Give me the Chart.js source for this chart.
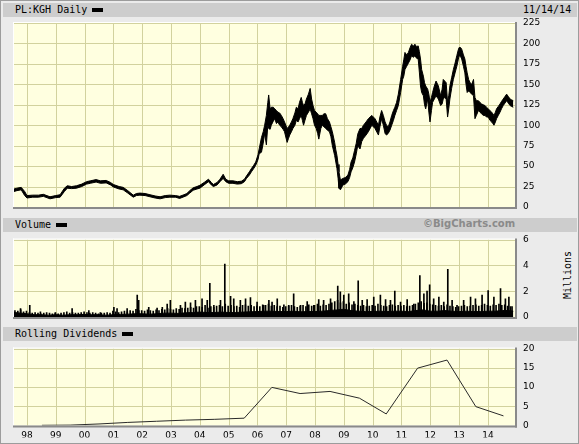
<!DOCTYPE html>
<html>
<head>
<meta charset="utf-8">
<script src="https://cdn.jsdelivr.net/npm/chart.js@4/dist/chart.umd.min.js"></script>
<style>
  body { margin: 0; background: #e9e9e9; }
  #frame { position: relative; width: 579px; height: 444px; background: #ebebeb; box-shadow: inset 0 0 0 1px #9c9c9c; overflow: hidden; }
  .band { position: absolute; left: 3px; width: 574px; height: 14px; background: #cdcdcd; }
  .lbl { position: absolute; font: 10px "DejaVu Sans Mono", monospace; color: #000; line-height: 14px; white-space: nowrap; }
  .sw { position: absolute; width: 11px; height: 4px; background: #000; }
  canvas { position: absolute; left: 0; }
</style>
</head>
<body>
<div id="frame">
  <div class="band" style="top:3px"></div>
  <div class="lbl" style="left:15px; top:3px">PL:KGH Daily</div>
  <div class="sw" style="left:92px; top:8px"></div>
  <div class="lbl" style="left:523px; top:3px">11/14/14</div>

  <div class="band" style="top:218px"></div>
  <div class="lbl" style="left:15px; top:218px">Volume</div>
  <div class="sw" style="left:56px; top:223px"></div>
  <div class="lbl" style="left:423px; top:218px; font:bold 10px 'DejaVu Sans', sans-serif; color:#8a8a8a">©BigCharts.com</div>

  <div class="band" style="top:327px"></div>
  <div class="lbl" style="left:15px; top:327px">Rolling Dividends</div>
  <div class="sw" style="left:122px; top:332px"></div>

  <div class="lbl" style="left:543px; top:268px; width:50px; text-align:center; transform:rotate(-90deg)">Millions</div>

  <canvas id="priceChart" width="579" height="200" style="top:17px"></canvas>
  <canvas id="volChart" width="579" height="90" style="top:233px"></canvas>
  <canvas id="divChart" width="579" height="102" style="top:342px"></canvas>
</div>

<script>
var yearTicks = [1998, 1999, 2000, 2001, 2002, 2003, 2004, 2005, 2006, 2007, 2008, 2009, 2010, 2011, 2012, 2013, 2014];
var xMin = 1997.55, xMax = 2014.94;

var priceDates = [1997.55, 1997.65, 1997.8, 1997.92, 1998.0, 1998.2, 1998.4, 1998.57, 1998.8, 1999.0, 1999.15, 1999.3, 1999.4, 1999.55, 1999.72, 1999.9,
  2000.07, 2000.2, 2000.4, 2000.55, 2000.75, 2000.9, 2001.0, 2001.2, 2001.34, 2001.5, 2001.69, 2001.8, 2001.92, 2002.1, 2002.27, 2002.45, 2002.62, 2002.8, 2002.96,
  2003.15, 2003.3, 2003.45, 2003.55, 2003.65, 2003.77, 2003.9, 2004.0, 2004.15, 2004.3, 2004.4, 2004.47, 2004.6, 2004.7, 2004.81, 2004.9,
  2005.0, 2005.15, 2005.3, 2005.44, 2005.55, 2005.62, 2005.72, 2005.79, 2005.87, 2005.94, 2006.02, 2006.06, 2006.14, 2006.2, 2006.25, 2006.31, 2006.36, 2006.39,
  2006.44, 2006.48, 2006.55, 2006.6, 2006.66, 2006.71, 2006.77, 2006.83, 2006.89, 2006.94, 2007.03, 2007.08, 2007.12, 2007.18, 2007.23, 2007.3, 2007.35, 2007.41,
  2007.46, 2007.52, 2007.56, 2007.6, 2007.65, 2007.7, 2007.77, 2007.83, 2007.88, 2007.93, 2007.98, 2008.04, 2008.09, 2008.13, 2008.2, 2008.25, 2008.31, 2008.37,
  2008.43, 2008.5, 2008.55, 2008.6, 2008.68, 2008.72, 2008.76, 2008.8, 2008.83, 2008.88, 2008.97, 2009.05, 2009.14, 2009.2, 2009.25, 2009.31, 2009.37, 2009.43,
  2009.48, 2009.56, 2009.62, 2009.68, 2009.77, 2009.85, 2009.97, 2010.08, 2010.2, 2010.25, 2010.31, 2010.37, 2010.43, 2010.48, 2010.54, 2010.6, 2010.66, 2010.72,
  2010.77, 2010.83, 2010.89, 2010.97, 2011.04, 2011.08, 2011.12, 2011.18, 2011.24, 2011.3, 2011.35, 2011.41, 2011.47, 2011.52, 2011.58, 2011.62, 2011.66, 2011.7,
  2011.76, 2011.8, 2011.84, 2011.91, 2011.95, 2011.99, 2012.04, 2012.08, 2012.14, 2012.2, 2012.28, 2012.36, 2012.41, 2012.45, 2012.5, 2012.55, 2012.6, 2012.64,
  2012.68, 2012.74, 2012.8, 2012.86, 2012.92, 2012.97, 2013.0, 2013.05, 2013.09, 2013.15, 2013.2, 2013.24, 2013.28, 2013.33, 2013.38, 2013.44, 2013.5, 2013.55,
  2013.6, 2013.67, 2013.72, 2013.78, 2013.84, 2013.9, 2013.95, 2014.01, 2014.07, 2014.13, 2014.17, 2014.21, 2014.26, 2014.3, 2014.36, 2014.42, 2014.47, 2014.53,
  2014.59, 2014.65, 2014.71, 2014.77, 2014.82, 2014.88];
var priceLow = [19, 20, 21, 14, 11, 12, 12, 13, 10, 11.5, 12, 19, 23, 22.5, 23, 25,
  28, 29, 30.5, 29, 29.5, 27, 24.5, 22, 21, 17, 12, 14, 14.5, 14, 12.5, 11, 10, 11.5, 12,
  12, 10.5, 12.5, 14, 17, 20.5, 22, 23, 27, 31, 27, 25, 27, 31, 35, 31,
  29, 29, 28, 28.5, 31, 35, 39, 43, 47, 51, 58, 65, 67, 78, 90, 76, 100, 96,
  95, 100, 105, 108, 102, 104, 100, 98, 95, 92, 79, 84, 88, 92, 96, 100, 106, 104,
  108, 112, 106, 100, 106, 112, 116, 120, 114, 108, 100, 96, 90, 83, 96, 100, 98, 96,
  94, 92, 86, 75, 63, 55, 47, 35, 23, 21, 27, 28, 31, 36, 43, 48, 55, 65,
  75, 71, 80, 84, 88, 92, 100, 96, 88, 98, 108, 100, 90, 88, 90, 94, 100, 106,
  112, 118, 124, 140, 156, 160, 168, 172, 176, 180, 185, 183, 185, 182, 181, 165, 148, 140,
  136, 125, 120, 132, 116, 104, 118, 128, 132, 136, 132, 124, 126, 132, 134, 132, 110, 120,
  132, 145, 156, 164, 172, 180, 185, 184, 181, 172, 164, 150, 140, 142, 140, 138, 136, 108,
  112, 118, 116, 114, 112, 112, 110, 110, 106, 104, 102, 100, 104, 108, 112, 116, 120, 124,
  127, 130, 127, 124, 123, 122];
var priceHigh = [22, 23, 24, 19, 14, 14.5, 14.5, 15.5, 12.5, 14, 15, 23, 26, 25, 26, 28,
  31, 32, 33.5, 32, 32.5, 30, 27.5, 25, 24, 20, 14.5, 16.5, 17, 16.5, 15, 13.5, 12.5, 14, 14.5,
  14, 13, 15, 16.5, 20, 23.5, 25, 26.5, 30, 34, 30, 27.5, 30, 34, 40, 34,
  32, 32, 31, 31.5, 34, 38, 43, 47, 51, 55, 64, 71, 85, 92, 100, 112, 128, 137,
  120, 122, 122, 120, 118, 116, 115, 112, 108, 104, 96, 98, 100, 104, 108, 115, 122, 120,
  128, 134, 128, 124, 126, 132, 138, 145, 132, 124, 118, 116, 114, 112, 112, 112, 114, 114,
  108, 104, 98, 92, 79, 70, 63, 52, 43, 33, 35, 36, 39, 46, 55, 60, 69, 78,
  89, 96, 96, 100, 104, 108, 112, 108, 100, 110, 118, 112, 104, 100, 98, 104, 112, 118,
  122, 128, 138, 156, 172, 180, 189, 186, 189, 195, 199, 197, 199, 196, 197, 190, 181, 168,
  160, 152, 148, 144, 138, 128, 134, 140, 148, 154, 148, 136, 144, 156, 154, 152, 128, 136,
  148, 158, 168, 176, 185, 192, 195, 195, 193, 186, 181, 172, 164, 156, 152, 150, 156, 134,
  130, 130, 128, 126, 125, 124, 122, 120, 118, 116, 114, 112, 116, 120, 123, 126, 129, 132,
  135, 138, 135, 132, 131, 130];

// volume in millions: dense floor, ordinary days, and the taller days
var volBaseDates = [1997.55, 1997.8, 1998.0, 1998.25, 1998.5, 1998.75, 1999.0, 1999.25, 1999.5, 1999.75, 2000.0, 2000.25, 2000.5, 2000.75,
  2001.0, 2001.25, 2001.5, 2001.75, 2002.0, 2002.25, 2002.5, 2002.75, 2003.0, 2003.25, 2003.5, 2003.75, 2004.0, 2004.25, 2004.5, 2004.75,
  2005.0, 2005.25, 2005.5, 2005.75, 2006.0, 2006.25, 2006.5, 2006.75, 2007.0, 2007.25, 2007.5, 2007.75, 2008.0, 2008.25, 2008.5, 2008.75,
  2009.0, 2009.25, 2009.5, 2009.75, 2010.0, 2010.25, 2010.5, 2010.75, 2011.0, 2011.25, 2011.5, 2011.75, 2012.0, 2012.25, 2012.5, 2012.75,
  2013.0, 2013.25, 2013.5, 2013.75, 2014.0, 2014.25, 2014.5, 2014.75, 2014.88];
var volBase = [0.35, 0.3, 0.25, 0.18, 0.18, 0.14, 0.18, 0.14, 0.18, 0.18, 0.2, 0.18, 0.18, 0.14,
  0.18, 0.2, 0.22, 0.25, 0.25, 0.22, 0.25, 0.3, 0.3, 0.28, 0.32, 0.35, 0.38, 0.35, 0.35, 0.38,
  0.35, 0.35, 0.38, 0.4, 0.42, 0.45, 0.45, 0.42, 0.42, 0.45, 0.4, 0.42, 0.42, 0.45, 0.5, 0.55,
  0.6, 0.5, 0.45, 0.42, 0.42, 0.45, 0.42, 0.45, 0.45, 0.42, 0.5, 0.55, 0.45, 0.45, 0.5, 0.45,
  0.42, 0.45, 0.42, 0.42, 0.45, 0.45, 0.5, 0.5, 0.45];
var volDayDates = [1997.6, 1997.7, 1997.8, 1997.9,
  1998.0, 1998.1, 1998.2, 1998.3, 1998.4, 1998.5, 1998.6, 1998.7, 1998.8, 1998.9,
  1999.0, 1999.1, 1999.2, 1999.3, 1999.4, 1999.5, 1999.6, 1999.7, 1999.8, 1999.9,
  2000.0, 2000.1, 2000.2, 2000.3, 2000.4, 2000.5, 2000.6, 2000.7, 2000.8, 2000.9,
  2001.0, 2001.1, 2001.2, 2001.3, 2001.4, 2001.5, 2001.6, 2001.7, 2001.8, 2001.9,
  2002.0, 2002.1, 2002.2, 2002.3, 2002.4, 2002.5, 2002.6, 2002.7, 2002.8, 2002.9,
  2003.0, 2003.1, 2003.2, 2003.3, 2003.4, 2003.5, 2003.6, 2003.7, 2003.8, 2003.9,
  2004.0, 2004.1, 2004.2, 2004.3, 2004.4, 2004.5, 2004.6, 2004.7, 2004.8, 2004.9,
  2005.0, 2005.1, 2005.2, 2005.3, 2005.4, 2005.5, 2005.6, 2005.7, 2005.8, 2005.9,
  2006.0, 2006.1, 2006.2, 2006.3, 2006.4, 2006.5, 2006.6, 2006.7, 2006.8, 2006.9,
  2007.0, 2007.1, 2007.2, 2007.3, 2007.4, 2007.5, 2007.6, 2007.7, 2007.8, 2007.9,
  2008.0, 2008.1, 2008.2, 2008.3, 2008.4, 2008.5, 2008.6, 2008.7, 2008.8, 2008.9,
  2009.0, 2009.1, 2009.2, 2009.3, 2009.4, 2009.5, 2009.6, 2009.7, 2009.8, 2009.9,
  2010.0, 2010.1, 2010.2, 2010.3, 2010.4, 2010.5, 2010.6, 2010.7, 2010.8, 2010.9,
  2011.0, 2011.1, 2011.2, 2011.3, 2011.4, 2011.5, 2011.6, 2011.7, 2011.8, 2011.9,
  2012.0, 2012.1, 2012.2, 2012.3, 2012.4, 2012.5, 2012.6, 2012.7, 2012.8, 2012.9,
  2013.0, 2013.1, 2013.2, 2013.3, 2013.4, 2013.5, 2013.6, 2013.7, 2013.8, 2013.9,
  2014.0, 2014.1, 2014.2, 2014.3, 2014.4, 2014.5, 2014.6, 2014.7, 2014.8];
var volDay = [0.5, 0.45, 0.55, 0.4,
  0.45, 0.35, 0.3, 0.35, 0.3, 0.25, 0.3, 0.35, 0.3, 0.25,
  0.3, 0.25, 0.3, 0.35, 0.4, 0.3, 0.35, 0.3, 0.3, 0.35,
  0.4, 0.35, 0.3, 0.35, 0.3, 0.25, 0.3, 0.3, 0.35, 0.3,
  0.45, 0.4, 0.35, 0.4, 0.45, 0.4, 0.5, 0.45, 0.6, 0.5,
  0.5, 0.45, 0.55, 0.5, 0.45, 0.55, 0.5, 0.6, 0.55, 0.65,
  0.6, 0.55, 0.65, 0.6, 0.7, 0.65, 0.7, 0.75, 0.7, 0.8,
  0.8, 0.75, 0.9, 0.7, 0.8, 0.75, 0.85, 0.9, 0.8, 1.0,
  0.85, 0.9, 0.8, 0.85, 0.75, 0.9, 0.95, 0.85, 0.9, 0.8,
  0.85, 0.8, 0.95, 0.9, 1.0, 0.85, 0.9, 0.8, 0.85, 0.75,
  0.8, 0.85, 0.9, 0.8, 0.75, 0.85, 0.9, 0.8, 0.95, 0.85,
  0.9, 1.0, 0.85, 0.95, 0.9, 1.0, 1.1, 1.2, 1.3, 1.1,
  1.2, 1.0, 1.1, 0.95, 1.0, 0.9, 0.85, 0.9, 0.8, 0.85,
  0.9, 0.85, 1.0, 0.9, 0.85, 0.8, 0.9, 0.95, 0.85, 0.9,
  0.85, 0.9, 0.8, 0.85, 0.9, 1.0, 1.1, 1.2, 1.05, 1.1,
  1.0, 0.95, 0.9, 0.85, 0.9, 0.8, 0.95, 0.85, 0.8, 0.75,
  0.8, 0.85, 0.9, 0.8, 0.85, 0.9, 0.95, 0.85, 0.9, 1.0,
  0.9, 0.85, 0.95, 0.9, 1.0, 0.9, 0.95, 0.85, 0.8];
var volSpikeDates = [1997.76, 1998.08, 1998.45, 1998.97, 1999.55, 2000.13, 2000.53, 2001.0, 2001.11, 2001.46, 2001.81, 2001.86, 2002.21, 2002.5, 2002.68,
  2002.85, 2002.96, 2003.31, 2003.48, 2003.66, 2003.83, 2004.06, 2004.24, 2004.33, 2004.47, 2004.7, 2004.85, 2005.05, 2005.16, 2005.39, 2005.57,
  2005.74, 2005.97, 2006.2, 2006.38, 2006.49, 2006.67, 2006.9, 2007.07, 2007.24, 2007.48, 2007.71, 2007.94, 2008.11, 2008.28, 2008.52, 2008.77,
  2008.86, 2008.98, 2009.15, 2009.33, 2009.48, 2009.62, 2009.79, 2010.02, 2010.25, 2010.43, 2010.6, 2010.75, 2010.95, 2011.18, 2011.41, 2011.62,
  2011.76, 2011.87, 2011.96, 2012.1, 2012.28, 2012.45, 2012.59, 2012.74, 2012.91, 2013.14, 2013.38, 2013.55, 2013.78, 2013.99, 2014.19, 2014.42,
  2014.59, 2014.71, 2014.82];
var volSpikes = [0.65, 0.9, 0.4, 0.35, 0.65, 0.5, 0.35, 0.75, 0.65, 0.65, 1.7, 1.3, 0.75, 0.7, 0.75,
  1.0, 1.3, 0.9, 1.15, 1.1, 1.3, 1.4, 1.3, 2.6, 0.9, 1.3, 4.1, 1.6, 1.4, 1.3, 1.4,
  1.5, 1.15, 0.9, 1.3, 1.15, 1.4, 0.95, 0.9, 1.8, 0.9, 1.2, 0.9, 1.35, 1.3, 1.4, 2.4,
  1.95, 1.7, 1.8, 1.2, 2.8, 1.3, 1.35, 1.55, 1.7, 1.35, 1.3, 2.0, 1.15, 1.35, 1.0, 3.2,
  1.8, 2.0, 2.5, 1.4, 1.55, 1.15, 3.7, 1.3, 0.9, 1.3, 1.55, 1.4, 1.7, 2.05, 1.55, 2.2,
  1.4, 1.55, 0.8];

// rolling dividends
var divDates = [1998.52, 1999.5, 2000.5, 2001.5, 2002.5, 2003.5, 2004.5, 2005.54, 2006.5, 2007.48, 2008.52, 2009.54, 2010.47, 2011.56, 2012.58, 2013.58, 2014.54];
var divValues = [0.05, 0.1, 0.4, 0.8, 1.1, 1.4, 1.6, 1.9, 9.9, 8.3, 8.85, 7.1, 3.0, 14.9, 17.0, 4.9, 2.5];

var gridColor = '#d2d29e';
var tickFont = { family: 'DejaVu Sans', size: 9 };

function pts(xs, ys) {
  return xs.map(function (x, i) { return { x: x, y: ys[i] }; });
}

// yellow plot box, its grid and the bevelled edge
var panelPlugin = {
  id: 'panel',
  beforeDraw: function (chart) {
    var a = chart.chartArea, c = chart.ctx;
    c.save();
    c.fillStyle = '#ffffe0';
    c.fillRect(a.left, a.top, a.right - a.left, a.bottom - a.top);
    c.restore();
  },
  beforeDatasetsDraw: function (chart) {
    var a = chart.chartArea, c = chart.ctx, xs = chart.scales.x, ys = chart.scales.y;
    c.save();
    c.strokeStyle = gridColor;
    c.lineWidth = 1;
    c.beginPath();
    xs.ticks.forEach(function (t) {
      var p = Math.round(xs.getPixelForValue(t.value)) + 0.5;
      c.moveTo(p, a.top); c.lineTo(p, a.bottom);
    });
    ys.ticks.forEach(function (t) {
      var p = Math.round(ys.getPixelForValue(t.value)) + 0.5;
      c.moveTo(a.left, p); c.lineTo(a.right, p);
    });
    c.stroke();
    c.restore();
  },
  afterDraw: function (chart) {
    var a = chart.chartArea, c = chart.ctx;
    c.save();
    c.fillStyle = '#ffffff';
    c.fillRect(a.left - 1, a.top - 1, a.right - a.left + 1, 1);
    c.fillRect(a.left - 1, a.top - 1, 1, a.bottom - a.top + 1);
    c.fillStyle = '#8a8a8a';
    c.fillRect(a.left - 1, a.bottom, a.right - a.left + 3, 2);
    c.fillRect(a.right, a.top - 1, 2, a.bottom - a.top + 3);
    c.restore();
  }
};

function noPad(s) {
  s.paddingTop = 0; s.paddingBottom = 0; s.paddingLeft = 0; s.paddingRight = 0;
}

function xScale(showLabels) {
  return {
    type: 'linear', min: xMin, max: xMax, offset: false,
    afterBuildTicks: function (s) { s.ticks = yearTicks.map(function (v) { return { value: v }; }); },
    afterFit: function (s) { s.height = showLabels ? 12 : 0; noPad(s); },
    grid: { color: 'rgba(0,0,0,0)', drawTicks: false, offset: false },
    border: { display: false },
    ticks: {
      display: showLabels, font: tickFont, color: '#000', padding: 5, maxRotation: 0, autoSkip: false,
      callback: function (v) { return String(v % 100).padStart(2, '0'); }
    }
  };
}

function yScale(max, step) {
  return {
    position: 'right', min: 0, max: max,
    afterFit: function (s) { s.width = 63; noPad(s); },
    grid: { color: 'rgba(0,0,0,0)', drawTicks: false },
    border: { display: false },
    ticks: { stepSize: step, font: tickFont, color: '#000', padding: 8 }
  };
}

function baseOptions(padTop, padBottom, max, step, showLabels) {
  return {
    responsive: false, animation: false, devicePixelRatio: 1,
    layout: { padding: { left: 14, right: 1, top: padTop, bottom: padBottom } },
    plugins: { legend: { display: false }, tooltip: { enabled: false } },
    scales: { x: xScale(showLabels), y: yScale(max, step) }
  };
}

new Chart(document.getElementById('priceChart'), {
  type: 'line',
  data: {
    datasets: [
      { data: pts(priceDates, priceHigh), borderColor: '#000', borderWidth: 1, pointRadius: 0, tension: 0, fill: false },
      { data: pts(priceDates, priceLow), borderColor: '#000', backgroundColor: '#000', borderWidth: 1, pointRadius: 0, tension: 0, fill: '-1' }
    ]
  },
  options: baseOptions(6, 10, 225, 25, false),
  plugins: [panelPlugin]
});

new Chart(document.getElementById('volChart'), {
  type: 'bar',
  data: {
    datasets: [
      { type: 'line', data: pts(volBaseDates, volBase), borderColor: '#000', backgroundColor: '#000', borderWidth: 1, pointRadius: 0, tension: 0, fill: 'origin' },
      { type: 'bar', data: pts(volDayDates, volDay), backgroundColor: '#000', barThickness: 1 },
      { type: 'bar', data: pts(volSpikeDates, volSpikes), backgroundColor: '#000', barThickness: 1 }
    ]
  },
  options: baseOptions(6.5, 6, 6, 2, false),
  plugins: [panelPlugin]
});

new Chart(document.getElementById('divChart'), {
  type: 'line',
  data: {
    datasets: [
      { data: pts(divDates, divValues), borderColor: '#2a2a2a', borderWidth: 1, pointRadius: 0, tension: 0, fill: false }
    ]
  },
  options: baseOptions(6.5, 6.5, 20, 5, true),
  plugins: [panelPlugin]
});
</script>
</body>
</html>
